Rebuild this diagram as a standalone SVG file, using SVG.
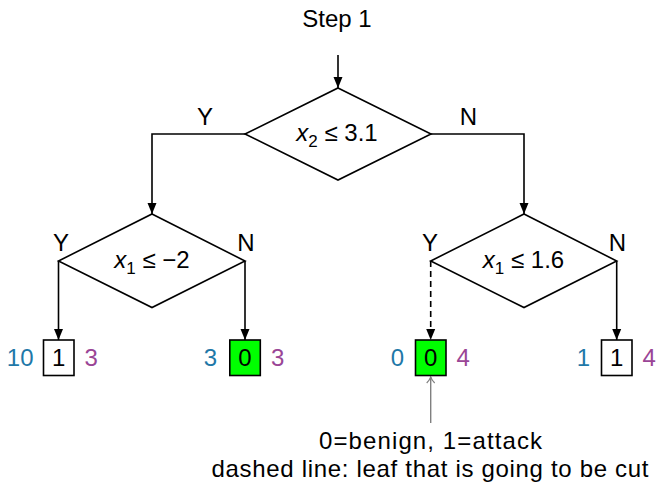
<svg xmlns="http://www.w3.org/2000/svg" width="656" height="488" viewBox="0 0 656 488">
  <defs>
    <style>
      text { font-family: "Liberation Sans", Arial, sans-serif; font-size: 24px; fill: #000; }
      .mid { text-anchor: middle; }
      .node { fill: #fff; stroke: #000; stroke-width: 1.6; stroke-linejoin: miter; }
      .leaf { fill: #fff; stroke: #000; stroke-width: 1.6; }
      .leaf.benign { fill: #00ff00; }
      .edge { fill: none; stroke: #000; stroke-width: 1.6; }
      .dashed { stroke-dasharray: 6 4; }
      .note { fill: none; stroke: #808080; stroke-width: 1.4; }
      .blue { fill: #1f78a8; }
      .purple { fill: #9a4596; }
    </style>
    <marker id="arrow" markerUnits="userSpaceOnUse" markerWidth="12" markerHeight="10" refX="11" refY="5" orient="auto">
      <path d="M0,0.5 L11,5 L0,9.5 z" fill="#000"/>
    </marker>
    <marker id="open" markerUnits="userSpaceOnUse" markerWidth="12" markerHeight="12" refX="7" refY="6" orient="auto">
      <path d="M1,2 Q4,5 7,6 Q4,7 1,10" fill="none" stroke="#808080" stroke-width="1.2"/>
    </marker>
  </defs>

  <text class="mid" x="337" y="27">Step 1</text>

  <g id="connectors">
    <line class="edge" x1="338" y1="55" x2="338" y2="88" marker-end="url(#arrow)"/>
    <polyline class="edge" points="245,134 152,134 152,214" marker-end="url(#arrow)"/>
    <polyline class="edge" points="431,134 524,134 524,214" marker-end="url(#arrow)"/>
    <line class="edge" x1="58.5" y1="261" x2="58.5" y2="340" marker-end="url(#arrow)"/>
    <line class="edge" x1="245" y1="261" x2="245" y2="340" marker-end="url(#arrow)"/>
    <line class="edge dashed" x1="430.7" y1="261" x2="430.7" y2="340" marker-end="url(#arrow)"/>
    <line class="edge" x1="616.7" y1="261" x2="616.7" y2="340" marker-end="url(#arrow)"/>
    <line class="note" x1="430.7" y1="423" x2="430.7" y2="377" marker-end="url(#open)"/>
  </g>

  <g id="split-root">
    <polygon class="node" points="338,88 431,134 338,180 245,134"/>
    <text class="mid" x="337" y="141"><tspan font-style="italic">x</tspan><tspan font-size="17" dy="6">2</tspan><tspan dy="-6"> ≤ 3.1</tspan></text>
    <text class="mid" x="205" y="125">Y</text>
    <text class="mid" x="468.5" y="125">N</text>
  </g>

  <g id="split-left">
    <polygon class="node" points="152,214 245,261 152,307.5 58.5,261"/>
    <text class="mid" x="152" y="268"><tspan font-style="italic">x</tspan><tspan font-size="17" dy="6">1</tspan><tspan dy="-6"> ≤ −2</tspan></text>
    <text class="mid" x="61" y="251">Y</text>
    <text class="mid" x="246" y="251">N</text>
  </g>

  <g id="split-right">
    <polygon class="node" points="524,214 616.7,261 524,307.5 430.7,261"/>
    <text class="mid" x="523.5" y="268"><tspan font-style="italic">x</tspan><tspan font-size="17" dy="6">1</tspan><tspan dy="-6"> ≤ 1.6</tspan></text>
    <text class="mid" x="430" y="251">Y</text>
    <text class="mid" x="617.5" y="251">N</text>
  </g>

  <g id="leaf-1">
    <text class="blue" x="33.5" y="366" text-anchor="end">10</text>
    <rect class="leaf" x="43.5" y="340" width="30.5" height="35.5"/>
    <text class="mid" x="58.7" y="366">1</text>
    <text class="purple" x="84.5" y="366">3</text>
  </g>

  <g id="leaf-2">
    <text class="blue" x="217" y="366" text-anchor="end">3</text>
    <rect class="leaf benign" x="229.8" y="340" width="30.5" height="35.5"/>
    <text class="mid" x="245" y="366">0</text>
    <text class="purple" x="271" y="366">3</text>
  </g>

  <g id="leaf-3">
    <text class="blue" x="404" y="366" text-anchor="end">0</text>
    <rect class="leaf benign" x="415.5" y="340" width="30.5" height="35.5"/>
    <text class="mid" x="430.7" y="366">0</text>
    <text class="purple" x="456.5" y="366">4</text>
  </g>

  <g id="leaf-4">
    <text class="blue" x="590" y="366" text-anchor="end">1</text>
    <rect class="leaf" x="601.5" y="340" width="30.5" height="35.5"/>
    <text class="mid" x="616.7" y="366">1</text>
    <text class="purple" x="642.5" y="366">4</text>
  </g>

  <g id="legend">
    <text class="mid" x="430.5" y="449" textLength="223" lengthAdjust="spacing">0=benign, 1=attack</text>
    <text class="mid" x="430" y="477" textLength="437" lengthAdjust="spacing">dashed line: leaf that is going to be cut</text>
  </g>
</svg>
